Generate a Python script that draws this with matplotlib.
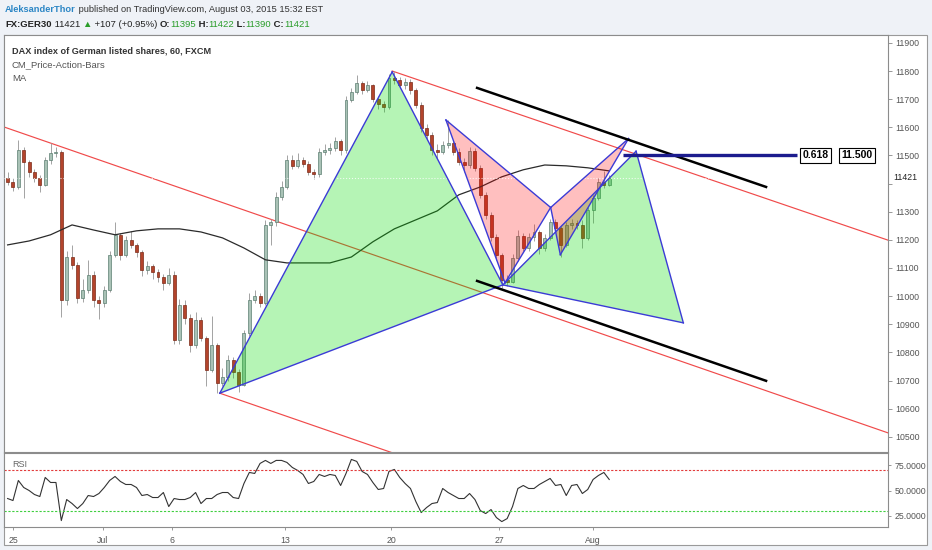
import matplotlib
matplotlib.use('Agg')
import matplotlib.pyplot as plt
from matplotlib.patches import Rectangle, Polygon
import numpy as np

W, H = 932, 550

# hourly-ish bars (4 per session), GER30 60 min
closes = [11406, 11388, 11520, 11477, 11442, 11420, 11395, 11484, 11509, 11513,
          10987, 11139, 11111, 10994, 11022, 11075, 10987, 10976, 11022, 11147,
          11218, 11147, 11200, 11182, 11157, 11093, 11107, 11086, 11068, 11047,
          11075, 10844, 10969, 10923, 10827, 10916, 10852, 10738, 10827, 10692,
          10713, 10773, 10731, 10685, 10869, 10987, 11001, 10976, 11253, 11264,
          11353, 11388, 11484, 11463, 11484, 11470, 11442, 11434, 11513, 11520,
          11527, 11552, 11520, 11697, 11726, 11758, 11733, 11751, 11701, 11683,
          11673, 11776, 11769, 11751, 11761, 11733, 11680, 11598, 11573, 11520,
          11513, 11537, 11545, 11513, 11477, 11466, 11516, 11456, 11360, 11289,
          11211, 11147, 11058, 11051, 11136, 11214, 11171, 11211, 11228, 11171,
          11207, 11264, 11243, 11182, 11253, 11260, 11253, 11207, 11306, 11349,
          11406, 11395, 11421]
highs = [11440, 11420, 11555, 11530, 11485, 11450, 11430, 11495, 11545, 11530,
         11520, 11160, 11180, 11120, 11060, 11130, 11090, 11000, 11035, 11160,
         11265, 11225, 11215, 11230, 11190, 11165, 11125, 11115, 11095, 11080,
         11100, 11090, 10990, 10985, 10935, 10945, 10925, 10860, 10930, 10835,
         10745, 10790, 10785, 10740, 10880, 11010, 11020, 11010, 11270, 11275,
         11370, 11410, 11500, 11500, 11510, 11495, 11480, 11450, 11525, 11540,
         11545, 11565, 11560, 11710, 11740, 11785, 11765, 11765, 11755, 11710,
         11695, 11790, 11800, 11780, 11775, 11770, 11740, 11690, 11610, 11585,
         11540, 11550, 11625, 11555, 11525, 11490, 11530, 11525, 11465, 11370,
         11300, 11220, 11155, 11075, 11150, 11235, 11225, 11225, 11255, 11235,
         11220, 11275, 11275, 11250, 11265, 11275, 11270, 11270, 11315, 11360,
         11420, 11445, 11430]
lows = [11395, 11375, 11380, 11350, 11425, 11405, 11370, 11390, 11470, 11495,
        10925, 10970, 11095, 10975, 10980, 11010, 10960, 10920, 10960, 11015,
        11140, 11130, 11140, 11170, 11140, 11070, 11080, 11060, 11050, 11020,
        11040, 10830, 10830, 10900, 10800, 10815, 10840, 10680, 10730, 10655,
        10680, 10700, 10710, 10660, 10680, 10860, 10975, 10960, 10970, 11180,
        11250, 11340, 11380, 11450, 11455, 11460, 11430, 11415, 11425, 11500,
        11505, 11515, 11500, 11510, 11690, 11720, 11720, 11725, 11690, 11665,
        11655, 11665, 11755, 11740, 11735, 11720, 11670, 11585, 11555, 11500,
        11490, 11505, 11525, 11500, 11465, 11440, 11455, 11445, 11350, 11275,
        11195, 11130, 11030, 11035, 11045, 11125, 11160, 11160, 11195, 11150,
        11160, 11200, 11230, 11140, 11175, 11240, 11240, 11170, 11200, 11260,
        11340, 11385, 11390]
first_open = 11420

# moving average, one value every 4 bars
ma_step = 4
ma_vals = [11182, 11196, 11218, 11253, 11235, 11218, 11232, 11239, 11239, 11228,
           11207, 11171, 11129, 11118, 11118, 11118, 11139, 11193, 11239, 11271,
           11303, 11360, 11388, 11424, 11449, 11466, 11463, 11456, 11445]

rsi_vals = [42, 40, 60, 53, 50, 46, 44, 63, 58, 58,
            20, 41, 37, 32, 37, 45, 44, 47, 53, 60,
            64, 59, 56, 56, 53, 45, 46, 43, 43, 48,
            34, 42, 41, 41, 43, 48, 37, 42, 42, 46,
            48, 48, 43, 42, 57, 68, 67, 77, 80, 77,
            80, 80, 78, 73, 70, 66, 57, 59, 66, 64,
            66, 65, 55, 67, 81, 79, 69, 66, 58, 51,
            52, 69, 71, 63, 57, 52, 39, 28, 33, 37,
            38, 52, 48, 45, 42, 42, 47, 41, 30, 27,
            31, 23, 19, 22, 34, 52, 55, 52, 52, 56,
            59, 62, 55, 56, 45, 55, 56, 47, 51, 61,
            65, 68, 61]

# time axis (bar index where each label sits)
tick_pos = [1.0, 17.7, 30.6, 51.7, 71.4, 91.5, 109.0]
tick_lbl = ['25', 'Jul', '6', '13', '20', '27', 'Aug']

# drawings: (bar, price)
green_x = [39.5, 71.6, 92.2, 117.0, 125.8]      # X A B C D
green_p = [10655, 11797, 11040, 11515, 10905]
pink_x = [81.6, 92.6, 101.1, 115.6, 102.9]
pink_p = [11626, 11047, 11315, 11560, 11147]
red_lines = [([-0.5, 164.5], [11600, 10510]),
             ([71.6, 164.5], [11800, 11195]),
             ([39.5, 80.0], [10655, 10388])]
black_lines = [([87.4, 141.2], [11740, 11388]),
               ([87.4, 141.2], [11054, 10699])]
fib_x = [114.6, 147.0]
fib_level = 11500
fib_ratio = '0.618'
last_price = 11421

plt.rcParams['font.family'] = ['Liberation Sans', 'DejaVu Sans']

fig = plt.figure(figsize=(W / 100, H / 100), dpi=100)
fig.patch.set_facecolor('#eff2f7')


def box(x, y, w, h):
    return [x / W, 1 - (y + h) / H, w / W, h / H]


frame = Rectangle((4 / W, 5 / H), 923 / W, 510 / H, transform=fig.transFigure,
                  facecolor='white', edgecolor='#9a9a9a', lw=0.8, zorder=-10)
fig.patches.append(frame)

ax = fig.add_axes(box(4, 35, 884, 417))
ax2 = fig.add_axes(box(4, 453, 884, 74))
xlim = (-0.67, 163.9)

# candles
n = len(closes)
idx = np.arange(n)
opens = np.array([first_open] + closes[:-1])
cl = np.array(closes)
up = cl >= opens
ax.vlines(idx, lows, highs, color='#a3a3a3', lw=0.7, zorder=2)
bot = np.minimum(opens, cl)
hgt = np.maximum(np.abs(cl - opens), 3)
ax.bar(idx[up], hgt[up], bottom=bot[up], width=0.55, color='#a9c2b6', edgecolor='#5d7f72', lw=0.5, zorder=2.2)
ax.bar(idx[~up], hgt[~up], bottom=bot[~up], width=0.55, color='#b3442c', edgecolor='#7c2a18', lw=0.5, zorder=2.2)

ax.plot(np.arange(0, n, ma_step), ma_vals, color='#2b2b2b', lw=0.9, zorder=3)

for xs, ps in red_lines:
    ax.plot(xs, ps, color='#f04a4a', lw=0.85, zorder=1.5)

# harmonic patterns: triangles XAB and BCD
def pattern(xs, ps, fc, alpha):
    for tri in ([0, 1, 2], [2, 3, 4]):
        pts = [(xs[i], ps[i]) for i in tri]
        ax.add_patch(Polygon(pts, closed=True, facecolor=fc, alpha=alpha, edgecolor='none', zorder=4))
    for a, b in [(0, 1), (1, 2), (0, 2), (2, 3), (3, 4), (2, 4)]:
        ax.plot([xs[a], xs[b]], [ps[a], ps[b]], color='#3b3bd6', lw=1.0, zorder=5)

pattern(green_x, green_p, '#00dc00', 0.29)
pattern(pink_x, pink_p, '#ff0000', 0.25)

for xs, ps in black_lines:
    ax.plot(xs, ps, color='black', lw=1.8, zorder=5)

ax.plot(fib_x, [fib_level, fib_level], color='#1c1c8e', lw=2.4, zorder=5, solid_capstyle='butt')
ax.text(fib_x[1] + 3.4, fib_level, fib_ratio, ha='center', va='center', fontsize=7.5,
        fontweight='bold', zorder=6,
        bbox=dict(boxstyle='square,pad=0.25', facecolor='white', edgecolor='black', lw=0.8))
ax.text(fib_x[1] + 11.1, fib_level, f'{fib_level / 1000:.3f}', ha='center', va='center', fontsize=7.5,
        fontweight='bold', zorder=6,
        bbox=dict(boxstyle='square,pad=0.25', facecolor='white', edgecolor='black', lw=0.8))

ax.axhline(last_price, color='white', lw=0.8, ls=':', alpha=0.8, zorder=4.5)

ax.set_xlim(xlim)
ax.set_ylim(10446, 11928)
ax.set_xticks([])
ax.yaxis.tick_right()
yt = list(range(10500, 12000, 100))
ax.set_yticks(yt)
ax.set_yticklabels(['' if v == 11400 else str(v) for v in yt])
ax.tick_params(axis='y', labelsize=6.3, labelcolor='#555555', color='#888888', length=3, width=0.6, pad=2)
for s in ax.spines.values():
    s.set_color('#8c8c8c')
    s.set_linewidth(0.8)
ax.text(1.0065, last_price, str(last_price), transform=ax.get_yaxis_transform(), ha='left', va='center',
        fontsize=6.3, color='#222222', zorder=8, clip_on=False,
        bbox=dict(boxstyle='square,pad=0.15', facecolor='white', edgecolor='none'))

ax.text(0.009, 0.962, 'DAX index of German listed shares, 60, FXCM', transform=ax.transAxes,
        fontsize=6.6, fontweight='bold', color='#333333', va='center')
ax.text(0.009, 0.928, 'CM_Price-Action-Bars', transform=ax.transAxes, fontsize=6.8, color='#555555', va='center')
ax.text(0.009, 0.895, 'MA', transform=ax.transAxes, fontsize=6.8, color='#555555', va='center')

# RSI
ax2.plot(idx, rsi_vals, color='#333333', lw=0.8)
ax2.axhline(70, color='#e23b3b', lw=0.8, ls=(0, (2, 1.5)))
ax2.axhline(30, color='#3fcf3f', lw=0.8, ls=(0, (2, 1.5)))
ax2.set_xlim(xlim)
ax2.set_ylim(13.6, 87.4)
ax2.yaxis.tick_right()
ax2.set_yticks([25, 50, 75])
ax2.set_yticklabels(['25.0000', '50.0000', '75.0000'])
ax2.set_xticks(tick_pos)
ax2.set_xticklabels(tick_lbl)
ax2.tick_params(axis='both', labelsize=6.3, labelcolor='#555555', color='#888888', length=2.5, width=0.6, pad=2)
ax2.tick_params(axis='x', pad=4)
for s in ax2.spines.values():
    s.set_color('#8c8c8c')
    s.set_linewidth(0.8)
ax2.text(0.009, 0.85, 'RSI', transform=ax2.transAxes, fontsize=6.5, color='#666666', va='center')

# header
renderer = fig.canvas.get_renderer()


def row(pieces, x0, y0, size):
    x = x0
    for txt, col, wt in pieces:
        t = fig.text(x / W, 1 - y0 / H, txt, color=col, fontweight=wt, fontsize=size, va='center', ha='left')
        x += t.get_window_extent(renderer).width


green = '#2a9d2a'
row([('AleksanderThor', '#2b86c5', 'bold'),
     (' published on TradingView.com, August 03, 2015 15:32 EST', '#333333', 'normal')], 5, 9.5, 6.7)
row([('FX:GER30', '#222222', 'bold'), (' 11421 ', '#222222', 'normal'), ('▲', green, 'normal'),
     (' +107 (+0.95%) ', '#222222', 'normal'),
     ('O:', '#222222', 'bold'), ('11395', green, 'normal'),
     (' H:', '#222222', 'bold'), ('11422', green, 'normal'),
     (' L:', '#222222', 'bold'), ('11390', green, 'normal'),
     (' C:', '#222222', 'bold'), ('11421', green, 'normal')], 5, 24.5, 6.8)

fig.savefig('out.png', dpi=100, facecolor=fig.get_facecolor())
